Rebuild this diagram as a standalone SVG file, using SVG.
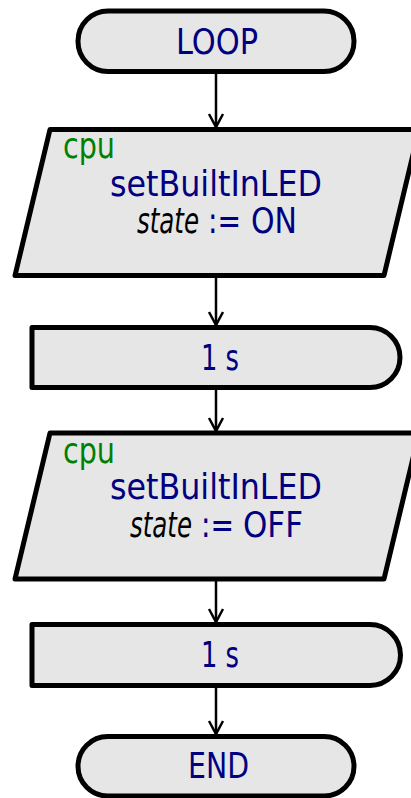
<svg xmlns="http://www.w3.org/2000/svg" width="411" height="798" viewBox="0 0 411 798">
<style>
.shape{fill:#e6e6e6;stroke:#000;stroke-width:5;stroke-linejoin:round}
.conn{stroke:#000;stroke-width:2.5;fill:none}
text{font-family:"DejaVu Sans Condensed","DejaVu Sans",sans-serif;font-size:36px;fill:#000080}
.g{fill:#008000}
.v{fill:#000;font-style:italic}
</style>
<defs>
<marker id="arr" markerUnits="userSpaceOnUse" markerWidth="20" markerHeight="20" refX="14" refY="10" orient="auto" viewBox="0 0 20 20">
<path d="M1,3 L14,10 L1,17" fill="none" stroke="#000" stroke-width="2.5"/>
</marker>
</defs>
<rect width="411" height="798" fill="#fff"/>
<g id="connectors">
<line class="conn" x1="216" y1="74" x2="216" y2="127" marker-end="url(#arr)"/>
<line class="conn" x1="216" y1="278" x2="216" y2="325" marker-end="url(#arr)"/>
<line class="conn" x1="216" y1="390" x2="216" y2="431" marker-end="url(#arr)"/>
<line class="conn" x1="216" y1="581" x2="216" y2="622" marker-end="url(#arr)"/>
<line class="conn" x1="216" y1="688" x2="216" y2="734" marker-end="url(#arr)"/>
</g>
<g id="loop">
<rect class="shape" x="78" y="11" width="276" height="60.5" rx="30"/>
<text x="176" y="54" textLength="82" lengthAdjust="spacingAndGlyphs">LOOP</text>
</g>
<g id="out1">
<polygon class="shape" points="50,129.5 419,129.5 384,275.5 15,275.5" stroke-linejoin="miter"/>
<text class="g" x="63" y="158" textLength="52" lengthAdjust="spacingAndGlyphs">cpu</text>
<text x="110" y="196" textLength="212" lengthAdjust="spacingAndGlyphs">setBuiltInLED</text>
<text y="233"><tspan class="v" x="137" textLength="62" lengthAdjust="spacingAndGlyphs">state</tspan><tspan x="208" textLength="33" lengthAdjust="spacingAndGlyphs">:=</tspan><tspan x="251" textLength="46" lengthAdjust="spacingAndGlyphs">ON</tspan></text>
</g>
<g id="delay1">
<path class="shape" d="M32,327.5 H370 A30,30 0 0 1 370,387.5 H32 Z"/>
<text x="201" y="370" textLength="38" lengthAdjust="spacingAndGlyphs">1 s</text>
</g>
<g id="out2">
<polygon class="shape" points="50,433 419,433 384,579 15,579" stroke-linejoin="miter"/>
<text class="g" x="63" y="463" textLength="52" lengthAdjust="spacingAndGlyphs">cpu</text>
<text x="110" y="499" textLength="212" lengthAdjust="spacingAndGlyphs">setBuiltInLED</text>
<text y="537"><tspan class="v" x="130" textLength="62" lengthAdjust="spacingAndGlyphs">state</tspan><tspan x="201" textLength="33" lengthAdjust="spacingAndGlyphs">:=</tspan><tspan x="243" textLength="60" lengthAdjust="spacingAndGlyphs">OFF</tspan></text>
</g>
<g id="delay2">
<path class="shape" d="M32,624.5 H370 A30.5,30.5 0 0 1 370,685.5 H32 Z"/>
<text x="201" y="667" textLength="38" lengthAdjust="spacingAndGlyphs">1 s</text>
</g>
<g id="end">
<rect class="shape" x="78" y="736.5" width="276" height="59.5" rx="29.75"/>
<text x="188" y="778" textLength="61" lengthAdjust="spacingAndGlyphs">END</text>
</g>
</svg>
